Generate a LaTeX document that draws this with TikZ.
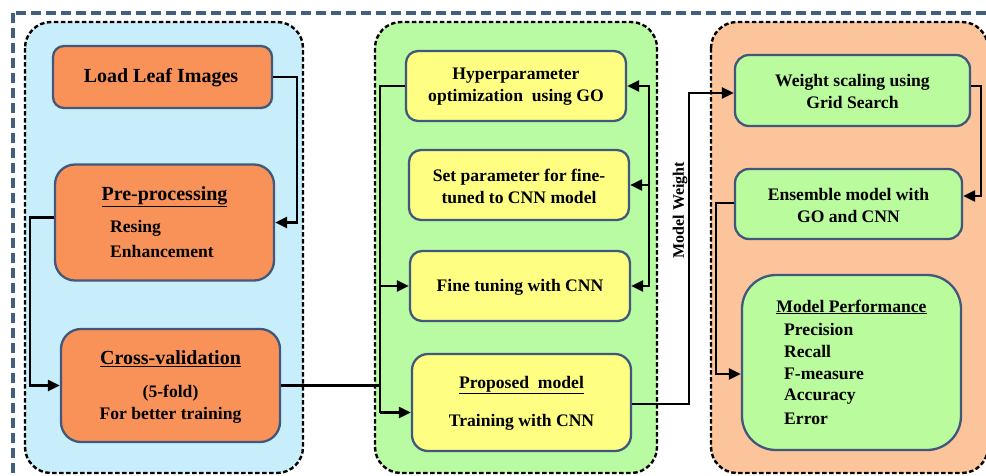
\documentclass[tikz,border=0pt]{standalone}
\usepackage{fontspec}
\setmainfont{Liberation Serif}
\usetikzlibrary{arrows.meta}

\definecolor{frameblue}{HTML}{41607F}
\definecolor{panelblue}{HTML}{C8EEFB}
\definecolor{panelgreen}{HTML}{B9FBA2}
\definecolor{panelorange}{HTML}{FCC49A}
\definecolor{boxorange}{HTML}{F99259}
\definecolor{boxyellow}{HTML}{FEFE83}
\definecolor{boxgreen}{HTML}{B9FB9D}
\definecolor{boxborder}{HTML}{41587C}

\tikzset{
  panel/.style={draw=black, line width=2.4pt, dash pattern=on 4.5pt off 2.5pt,
    rounded corners=26pt},
  box/.style={draw=boxborder, line width=2.3pt, rectangle, inner sep=0pt},
  obox/.style={box, fill=boxorange},
  ybox/.style={box, fill=boxyellow, rounded corners=12pt},
  gbox/.style={box, fill=boxgreen, rounded corners=14pt},
  txt/.style={font=\bfseries\fontsize{17.6}{20}\selectfont, inner sep=0pt, align=center},
  ttl/.style={font=\bfseries\fontsize{20}{22}\selectfont, inner sep=0pt},
  line/.style={draw=black, line width=2.4pt},
  arr/.style={line, -{Triangle[length=12pt,width=11pt]}},
  biarr/.style={line, {Triangle[length=12pt,width=11pt]}-{Triangle[length=12pt,width=11pt]}},
}

\begin{document}
\begin{tikzpicture}[x=1pt, y=-1pt]
\useasboundingbox (0,0) rectangle (986,475);

% outer frame
\draw[frameblue, line width=3.2pt, dash pattern=on 10pt off 5pt] (13,13) rectangle (1010,500);

% stage panels
\path[panel, fill=panelblue]   (25,22)  rectangle (303,473);
\path[panel, fill=panelgreen]  (375,22) rectangle (657,473);
\path[panel, fill=panelorange] (711,22) rectangle (988,473);

% --- data preparation ---
\node[obox, rounded corners=11pt, minimum width=219pt, minimum height=62pt] (load) at (162.5,77) {};
\node[ttl] (loadT) at (161,78) {Load Leaf Images};

\node[obox, rounded corners=20pt, minimum width=219pt, minimum height=116pt] (pre) at (164.5,222.5) {};
\node[ttl] (preT) at (164.5,197) {\underline{Pre-processing}};
\node[txt, anchor=west] (preA) at (110,228) {Resing};
\node[txt, anchor=west] (preB) at (110,251) {Enhancement};

\node[obox, rounded corners=20pt, minimum width=219pt, minimum height=113pt] (cross) at (170.5,385.5) {};
\node[ttl] (crossT) at (170.5,359) {\underline{Cross-validation}};
\node[txt] (crossA) at (170.5,393) {(5-fold)};
\node[txt] (crossB) at (170.5,415) {For better training};

% --- model building ---
\node[ybox, minimum width=220pt, minimum height=70pt] (hyper) at (516,86) {};
\node[txt] (hyperT) at (516,87) {Hyperparameter\\[2pt]optimization\ \ using GO};

\node[ybox, minimum width=220pt, minimum height=70pt] (setp) at (519,185) {};
\node[txt] (setpT) at (519,186) {Set parameter for fine-\\[2pt]tuned to CNN model};

\node[ybox, minimum width=220pt, minimum height=70pt] (fine) at (520,286) {};
\node[txt] (fineT) at (520,287) {Fine tuning with CNN};

\node[ybox, rounded corners=16pt, minimum width=219pt, minimum height=97pt] (prop) at (521.5,402.5) {};
\node[txt] (propT) at (521.5,385) {\underline{Proposed\ \ model}};
\node[txt] (propA) at (521.5,422) {Training with CNN};

% --- ensemble and evaluation ---
\node[gbox, minimum width=235pt, minimum height=71pt] (weight) at (852.5,90.5) {};
\node[txt] (weightT) at (852.5,91.5) {Weight scaling using\\[2pt]Grid Search};

\node[gbox, minimum width=227pt, minimum height=70pt] (ens) at (848.5,204) {};
\node[txt] (ensT) at (848.5,205) {Ensemble model with\\[2pt]GO and CNN};

\node[gbox, rounded corners=34pt, minimum width=219pt, minimum height=175pt] (perf) at (851.5,362.5) {};
\node[txt] (perfT) at (851.5,307) {\underline{Model Performance}};
\node[txt, anchor=west] (perfA) at (784,329) {Precision};
\node[txt, anchor=west] (perfB) at (784,351.5) {Recall};
\node[txt, anchor=west] (perfC) at (784,374) {F-measure};
\node[txt, anchor=west] (perfD) at (784,396.5) {Accuracy};
\node[txt, anchor=west] (perfE) at (784,419) {Error};

\node[font=\bfseries\fontsize{16}{18}\selectfont, rotate=90, inner sep=0pt] (mw) at (680,210) {Model Weight};

% --- connectors ---
\draw[arr] (load.east) -- ++(24,0) |- (pre.east);
\coordinate (preOut) at ([yshift=5pt]pre.west);
\coordinate (lrail) at (30,217.5);
\draw[arr] (preOut) -- (lrail) |- (cross.west);

\coordinate (lbus) at (380,86);
\coordinate (propIn) at ([yshift=-10pt]prop.west);
\draw[line] (hyper.west) -- (lbus) -- (lbus |- propIn);
\draw[line] (cross.east) -- (lbus |- cross.east);
\draw[arr] (lbus |- fine.west) -- (fine.west);
\draw[arr] (lbus |- propIn) -- (propIn);

\coordinate (rbus) at (649,86);
\draw[biarr] (hyper.east) -- (rbus) |- (fine.east);
\draw[arr] (rbus |- setp.east) -- (setp.east);

\coordinate (propOut) at ([yshift=-1.5pt]prop.east);
\coordinate (wIn) at ([yshift=-2.5pt]weight.west);
\draw[arr] (propOut) -- (689,404) |- (wIn);

\coordinate (wOut) at ([yshift=4.5pt]weight.east);
\coordinate (eIn) at ([yshift=8pt]ens.east);
\draw[arr] (wOut) -- (981,86) |- (eIn);

\coordinate (eOut) at ([yshift=1pt]ens.west);
\coordinate (pIn) at ([yshift=-11.5pt]perf.west);
\draw[arr] (eOut) -- (716,203) |- (pIn);
\end{tikzpicture}
\end{document}
